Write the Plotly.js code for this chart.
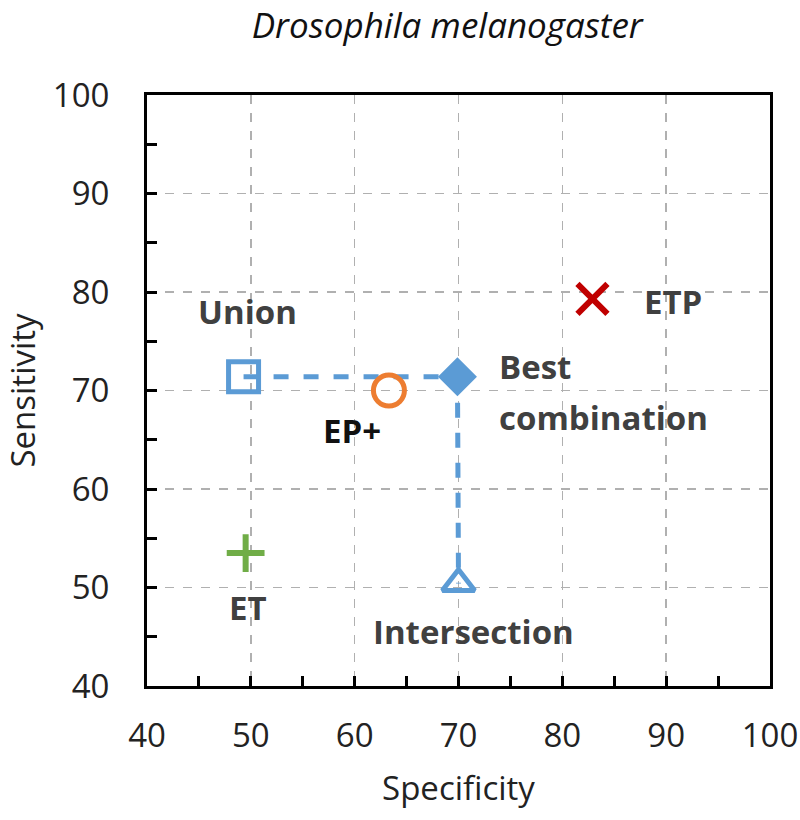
<!DOCTYPE html>
<html><head><meta charset="utf-8">
<script src="https://cdn.plot.ly/plotly-3.0.1.min.js"></script>
<style>html,body{margin:0;padding:0;background:#fff}#c{width:800px;height:820px}</style>
</head><body><div id="c"></div>
<script>
// Data (Specificity, Sensitivity)
const methods = ["Union", "EP+", "Best combination", "Intersection", "ET", "ETP"];
const specificity = [49.3, 63.3, 69.9, 70.0, 49.5, 82.9];
const sensitivity = [71.4, 70.0, 71.4, 50.4, 53.5, 79.3];
const xTicks = [40, 50, 60, 70, 80, 90, 100];
const yTicks = [40, 50, 60, 70, 80, 90, 100];
const labelLines = [["Union"], ["EP+"], ["Best", "combination"], ["Intersection"], ["ET"], ["ETP"]];

const FONT = "Open Sans, Noto Sans, sans-serif";
const blue = "#5B9BD5";

function pt(i){ return {x:[specificity[i]], y:[sensitivity[i]]}; }

const traces = [
  {x:[specificity[0], specificity[2], specificity[3]], y:[sensitivity[0], sensitivity[2], sensitivity[3]],
   mode:"lines", line:{color:blue, width:5, dash:"dash"}, hoverinfo:"skip"},
  Object.assign(pt(0), {mode:"markers", marker:{symbol:"square-open", size:30, color:blue, line:{width:5, color:blue}}}),
  Object.assign(pt(1), {mode:"markers", marker:{symbol:"circle-open", size:31, color:"#ED7D31", line:{width:5, color:"#ED7D31"}}}),
  Object.assign(pt(2), {mode:"markers", marker:{symbol:"diamond", size:30, color:blue, line:{width:0}}}),
  Object.assign(pt(3), {mode:"markers", marker:{symbol:"triangle-up-open", size:28, color:blue, line:{width:5, color:blue}}}),
  Object.assign(pt(4), {mode:"markers", marker:{symbol:"cross-thin", size:27, color:"#70AD47", line:{width:6, color:"#70AD47"}}}),
  Object.assign(pt(5), {mode:"markers", marker:{symbol:"x-thin", size:30, color:"#C00000", line:{width:6, color:"#C00000"}}})
];

// label placement (pixel offsets from each point)
const shifts = [[4, 65], [-37, -40], [40, 10], [15, -48], [2, -54], [50, -3]];
const anchors = ["center", "center", "left", "center", "center", "left"];
const labelColors = ["#404040", "#111111", "#404040", "#404040", "#404040", "#404040"];
const LINE_GAP = 51;
const annotations = [];
methods.forEach((m, i) => {
  const lines = labelLines[i];
  lines.forEach((ln, k) => {
    annotations.push({
      x: specificity[i], y: sensitivity[i], xref:"x", yref:"y",
      text: "<b>" + ln + "</b>", showarrow:false,
      xanchor: anchors[i], yanchor:"middle",
      xshift: shifts[i][0], yshift: shifts[i][1] - k * LINE_GAP,
      font:{family:FONT, size:33, color:labelColors[i]}
    });
  });
});

const axisCommon = {
  showline:true, linecolor:"#000", linewidth:3, mirror:true,
  ticks:"inside", ticklen:10, tickwidth:3, tickcolor:"#000",
  showgrid:true, gridcolor:"#b0b0b0", gridwidth:1.5, griddash:"dash",
  zeroline:false, tickfont:{family:FONT, size:33, color:"#222"},
  minor:{ticks:"inside", ticklen:10, tickwidth:3, tickcolor:"#000", dtick:5, showgrid:false}
};

const layout = {
  width:800, height:820, showlegend:false,
  paper_bgcolor:"#fff", plot_bgcolor:"#fff",
  margin:{l:147, r:30, t:95, b:134},
  title:{text:"<i>Drosophila melanogaster</i>", x:0.559, xanchor:"center", y:0.969, yanchor:"middle",
         font:{family:FONT, size:35, color:"#111"}},
  xaxis:Object.assign({}, axisCommon, {range:[40,100], tickvals:xTicks, ticktext:xTicks.map(String),
     ticklabelstandoff:18,
     title:{text:"Specificity", standoff:22, font:{family:FONT, size:33, color:"#222"}}}),
  yaxis:Object.assign({}, axisCommon, {range:[40,100], tickvals:yTicks, ticktext:yTicks.map(String),
     ticklabelstandoff:28,
     title:{text:"Sensitivity", standoff:14, font:{family:FONT, size:33, color:"#222"}}}),
  annotations:annotations
};

Plotly.newPlot("c", traces, layout, {displayModeBar:false, staticPlot:true});
</script></body></html>
